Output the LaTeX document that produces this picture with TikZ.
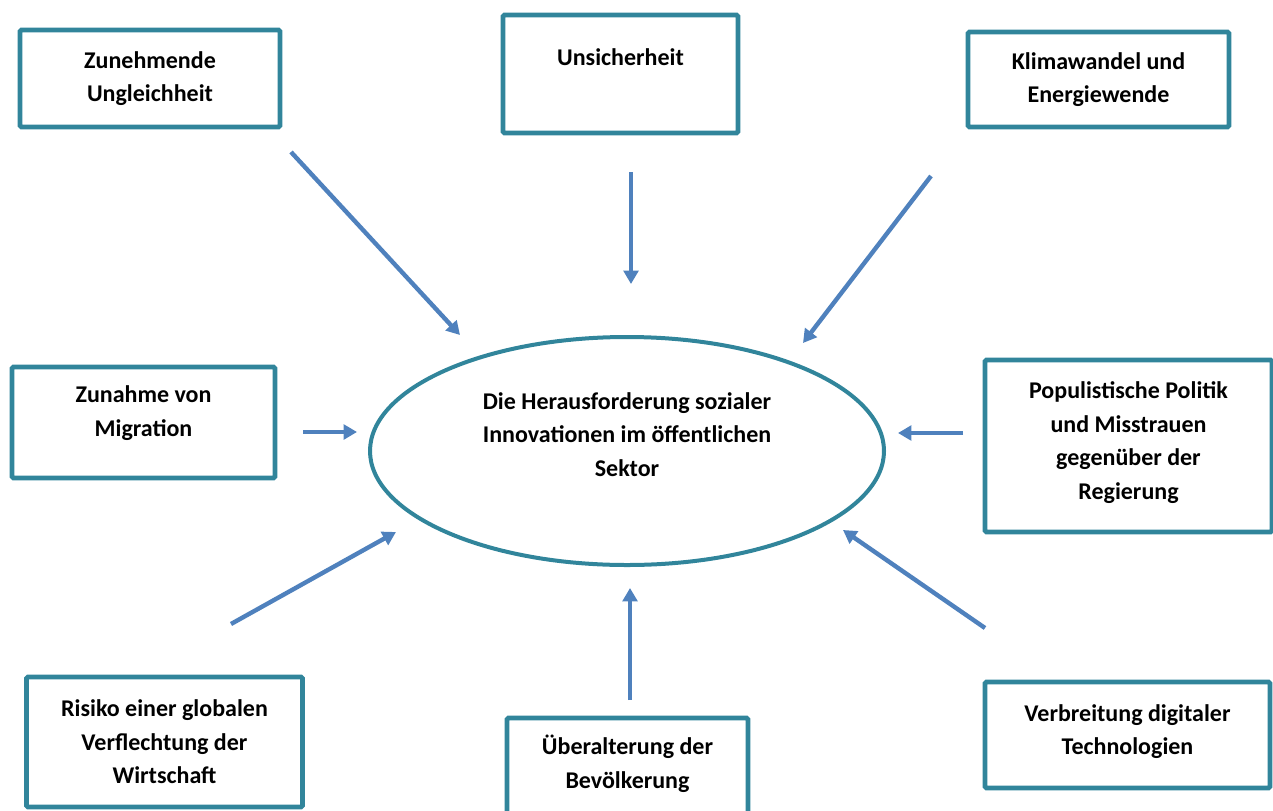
\documentclass[tikz,border=0pt]{standalone}
\usepackage{fontspec}
\setmainfont{Carlito}
\usepackage{xcolor}
\usetikzlibrary{arrows.meta}
\usetikzlibrary{shapes.geometric}
\definecolor{boxteal}{RGB}{49,133,155}
\definecolor{arrowblue}{RGB}{79,129,189}

\begin{document}
\begin{tikzpicture}[x=0.75pt,y=-0.75pt,
  main node/.style={rectangle,draw=boxteal,line width=3.5pt,rounded corners=1pt,
    align=center,inner sep=0pt,font=\bfseries\fontsize{18}{25.2}\selectfont},
  center node/.style={ellipse,draw=boxteal,line width=3pt,align=center,
    inner sep=0pt,font=\bfseries\fontsize{18}{25.2}\selectfont},
  flow/.style={-{Triangle[length=10pt,width=11pt]},draw=arrowblue,line width=3.3pt}]

  \clip (0,0) rectangle (1273,810);

  \node[center node,minimum width=385.5pt,minimum height=171pt] (0) at (627,451)
    {Die Herausforderung sozialer\\Innovationen im öffentlichen\\Sektor\\\mbox{}};

  \node[main node,minimum width=195pt,minimum height=72.75pt] (1) at (150,78.5)
    {Zunehmende\\Ungleichheit};
  \node[main node,minimum width=176.25pt,minimum height=88.5pt] (2) at (620.5,74)
    {Unsicherheit\\\mbox{}};
  \node[main node,minimum width=195.75pt,minimum height=71.25pt] (3) at (1098.5,79.5)
    {Klimawandel und\\Energiewende};
  \node[main node,minimum width=197.25pt,minimum height=83.25pt] (4) at (143.5,422.5)
    {Zunahme von\\Migration\\[-8pt]\mbox{}};
  \node[main node,minimum width=215.25pt,minimum height=129pt] (5) at (1128.5,446)
    {Populistische Politik\\und Misstrauen\\gegenüber der\\Regierung\\[-17pt]\mbox{}};
  \node[main node,minimum width=207pt,minimum height=97.5pt] (6) at (164.5,742)
    {Risiko einer globalen\\Verflechtung der\\Wirtschaft};
  \node[main node,minimum width=180.75pt,minimum height=82.5pt] (7) at (627.5,773)
    {Überalterung der\\Bevölkerung\\[-8pt]\mbox{}};
  \node[main node,minimum width=213.75pt,minimum height=79.5pt] (8) at (1127.5,735)
    {Verbreitung digitaler\\Technologien\\[-17pt]\mbox{}};

  % free ends of the arrows
  \coordinate (1s) at (291,152);  \coordinate (1e) at (460,335);
  \coordinate (2s) at (631,172);  \coordinate (2e) at (631,284);
  \coordinate (3s) at (931,176);  \coordinate (3e) at (803,343);
  \coordinate (4s) at (303,432);  \coordinate (4e) at (357,432);
  \coordinate (5s) at (963,433);  \coordinate (5e) at (898,433);
  \coordinate (6s) at (231,624);  \coordinate (6e) at (396,532);
  \coordinate (7s) at (630,700);  \coordinate (7e) at (630,588);
  \coordinate (8s) at (985,628);  \coordinate (8e) at (843,530);

  \draw[flow] (1s) -- (1e);
  \draw[flow] (2s) -- (2e);
  \draw[flow] (3s) -- (3e);
  \draw[flow] (4s) -- (4e);
  \draw[flow] (5s) -- (5e);
  \draw[flow] (6s) -- (6e);
  \draw[flow] (7s) -- (7e);
  \draw[flow] (8s) -- (8e);
\end{tikzpicture}
\end{document}
